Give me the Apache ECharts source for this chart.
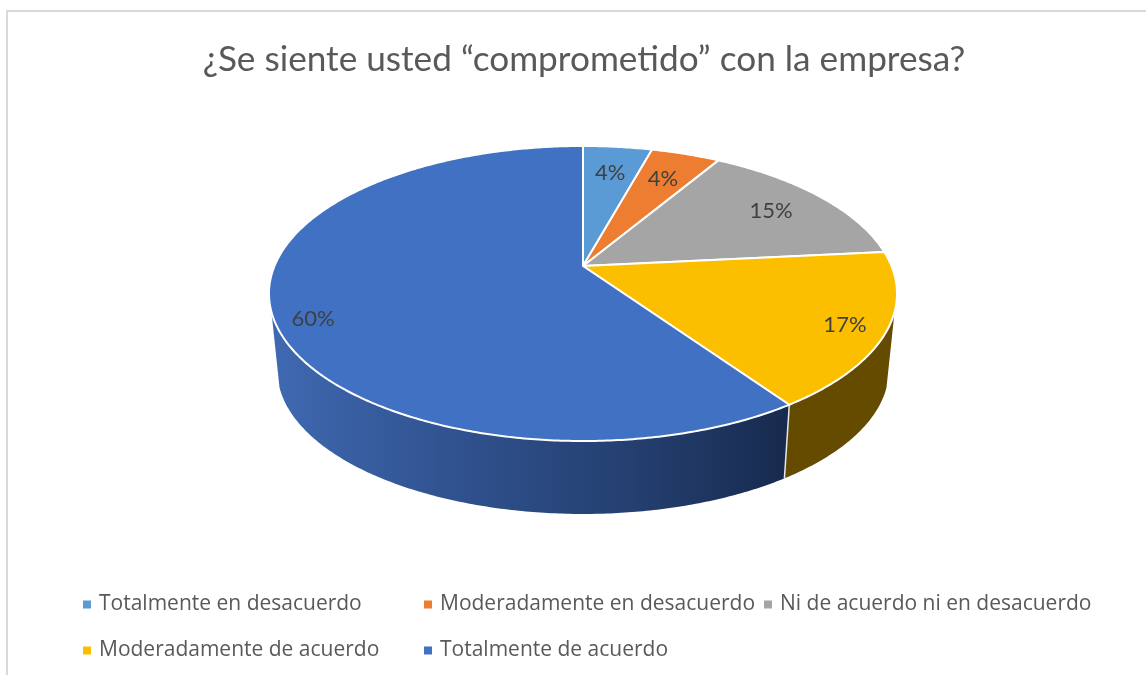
<!DOCTYPE html>
<html>
<head>
<meta charset="utf-8">
<title>Compromiso</title>
<script src="https://cdn.jsdelivr.net/npm/echarts@6/dist/echarts.min.js"></script>
<style>
html, body { margin: 0; padding: 0; background: #fff; overflow: hidden; }
#frame { position: absolute; left: 6px; top: 10px; width: 1140px; height: 665px;
    border-top: 2px solid #d9d9d9; border-left: 2px solid #d9d9d9; box-sizing: border-box; }
#main { position: absolute; left: 0; top: 0; width: 1146px; height: 675px; }
</style>
</head>
<body>
<div id="frame"></div>
<div id="main"></div>
<script>
var titleText = '¿Se siente usted “comprometido” con la empresa?';
var categories = ['Totalmente en desacuerdo', 'Moderadamente en desacuerdo', 'Ni de acuerdo ni en desacuerdo', 'Moderadamente de acuerdo', 'Totalmente de acuerdo'];
// respuestas estimadas, los porcentajes salen 4, 4, 15, 17, 60
var values = [2, 2, 7, 8, 28];
var colors = ['#5b9bd5', '#ed7d31', '#a5a5a5', '#fcbf00', '#4171c2'];

// donde cae cada etiqueta dentro de su porcion: [fraccion del arco, radio]
var labelSpots = [[0.5, 0.75], [0.5, 0.75], [0.5, 0.78], [0.518, 0.877], [0.473, 0.889]];
// legend layout: [left, top]
var legendSpots = [[83, 594], [424, 594], [764, 594], [83, 640], [424, 640]];

// perspectiva del disco
var K_TOP = 0.1864, K_LOW = 0.19, LOW_SCALE = 0.973, LOW_DROP = 0.54;
// the side wall is only visible between these two angles
var WALL_FROM = 107.7 * Math.PI / 180, WALL_TO = 252.3 * Math.PI / 180;

var total = values.reduce(function (a, b) { return a + b; }, 0);

function topPoint(t, r) {
    var u = r * Math.sin(t), v = r * Math.cos(t), d = 1 + K_TOP * v;
    return [u / d, v / d];
}
function lowPoint(t) {
    var u = Math.sin(t), v = Math.cos(t), d = 1 + K_LOW * v;
    return [LOW_SCALE * u / d, LOW_SCALE * v / d - LOW_DROP];
}
function arc(fn, a, b) {
    var n = Math.max(2, Math.ceil(Math.abs(b - a) / 0.01)), pts = [];
    for (var i = 0; i <= n; i++) {
        pts.push(fn(a + (b - a) * i / n));
    }
    return pts;
}

function makeRender(idx) {
    return function (params, api) {
        var before = 0;
        for (var i = 0; i < idx; i++) before += values[i];
        var a = before / total * Math.PI * 2;
        var b = (before + values[idx]) / total * Math.PI * 2;
        var toPx = function (p) { return api.coord(p); };
        var children = [];

        // pared lateral
        var wa = Math.max(a, WALL_FROM), wb = Math.min(b, WALL_TO);
        if (wb > wa) {
            var upper = arc(function (t) { return topPoint(t, 1); }, wa, wb);
            var lower = arc(lowPoint, wb, wa);
            var fill = '#654b00';
            if (idx === 4) {
                fill = new echarts.graphic.LinearGradient(0, 0, 1, 0, [
                    { offset: 0, color: '#3f69b1' },
                    { offset: 0.35, color: '#30528f' },
                    { offset: 0.7, color: '#243f70' },
                    { offset: 1, color: '#172a4e' }
                ]);
            }
            children.push({
                type: 'polygon',
                z2: 1,
                shape: { points: upper.concat(lower).map(toPx) },
                style: { fill: fill }
            });
            // linea blanca entre paredes
            if (a >= WALL_FROM) {
                children.push({
                    type: 'polyline',
                    z2: 2,
                    shape: { points: [topPoint(a, 1), lowPoint(a)].map(toPx) },
                    style: { stroke: '#e8e8e8', lineWidth: 1.5, fill: null }
                });
            }
        }

        // tapa
        var rim = arc(function (t) { return topPoint(t, 1); }, a, b);
        children.push({
            type: 'polygon',
            z2: 5,
            shape: { points: [[0, 0]].concat(rim).map(toPx) },
            style: { fill: colors[idx], stroke: '#fff', lineWidth: 2, lineJoin: 'round' }
        });

        // porcentaje
        var spot = labelSpots[idx];
        var at = toPx(topPoint(a + (b - a) * spot[0], spot[1]));
        children.push({
            type: 'text',
            z2: 10,
            style: {
                x: at[0], y: at[1],
                text: Math.round(values[idx] / total * 100) + '%',
                fill: '#404040',
                font: '22px Lato',
                align: 'center',
                verticalAlign: 'middle'
            }
        });
        return { type: 'group', children: children };
    };
}

var chart = echarts.init(document.getElementById('main'));
chart.setOption({
    animation: false,
    title: {
        text: titleText,
        left: 579,
        top: 37,
        textAlign: 'center',
        textStyle: { fontFamily: 'Lato', fontSize: 35.2, fontWeight: 'normal', color: '#595959' }
    },
    legend: categories.map(function (name, i) {
        return {
            data: [name],
            left: legendSpots[i][0],
            top: legendSpots[i][1],
            padding: 0,
            icon: 'rect',
            itemWidth: 8,
            itemHeight: 8,
            selectedMode: false,
            textStyle: { fontFamily: 'Open Sans', fontSize: 21, color: '#595959', padding: [0, 0, 0, 3] }
        };
    }),
    grid: { left: 212.8, top: 95.1, width: 740.4, height: 455.7 },
    xAxis: { type: 'value', min: -1.2, max: 1.2, show: false },
    yAxis: { type: 'value', min: -2, max: 1.2, show: false },
    series: categories.map(function (name, i) {
        return {
            type: 'custom',
            name: name,
            coordinateSystem: 'cartesian2d',
            clip: false,
            silent: true,
            itemStyle: { color: colors[i] },
            data: [[0, 0, values[i]]],
            renderItem: makeRender(i)
        };
    })
});
window.addEventListener('resize', function () {
    chart.resize();
});
</script>
</body>
</html>
